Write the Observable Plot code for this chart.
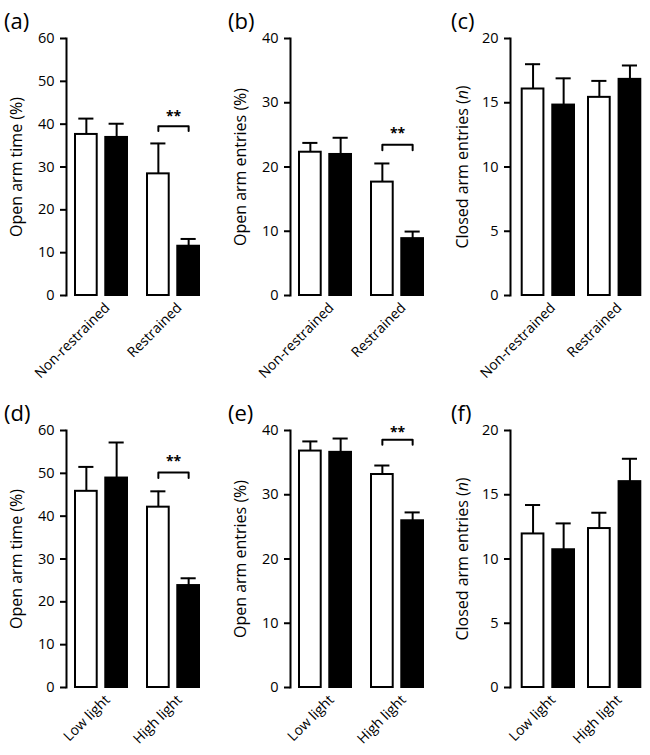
<!DOCTYPE html>
<html><head><meta charset="utf-8">
<script src="https://cdn.jsdelivr.net/npm/d3@7"></script>
<script src="https://cdn.jsdelivr.net/npm/@observablehq/plot@0.6"></script>
<style>
body{margin:0;background:#fff;}
#wrap{position:relative;width:650px;height:755px;overflow:hidden;font-family:"Open Sans",sans-serif;color:#000;}
.panel{position:absolute;}
.letter{position:absolute;font-size:22px;line-height:22px;white-space:nowrap;}
.ylab{position:absolute;width:260px;height:16px;line-height:16px;font-size:16px;text-align:center;transform:rotate(-90deg);white-space:nowrap;}
</style></head><body><div id="wrap"></div>
<script>
// ---- data ----
const conditions = ["Control", "Treated"];          // white bars, black bars
const topGroups = ["Non-restrained", "Restrained"];
const bottomGroups = ["Low light", "High light"];

// (a) open arm time (%)
const meanA = [37.6, 36.9, 28.4, 11.5];
const semA  = [3.7, 3.2, 7.1, 1.7];
// (b) open arm entries (%)
const meanB = [22.3, 21.95, 17.65, 8.85];
const semB  = [1.45, 2.6, 2.9, 1.1];
// (c) closed arm entries (n)
const meanC = [16.07, 14.82, 15.42, 16.82];
const semC  = [1.93, 2.08, 1.28, 1.08];
// (d) open arm time (%)
const meanD = [45.8, 48.9, 42.1, 23.8];
const semD  = [5.7, 8.3, 3.7, 1.7];
// (e) open arm entries (%)
const meanE = [36.8, 36.6, 33.15, 25.95];
const semE  = [1.5, 2.15, 1.4, 1.3];
// (f) closed arm entries (n)
const meanF = [11.95, 10.72, 12.37, 16.02];
const semF  = [2.25, 2.05, 1.23, 1.78];

const ticksTime = [0, 10, 20, 30, 40, 50, 60];
const ticksEntries = [0, 10, 20, 30, 40];
const ticksClosed = [0, 5, 10, 15, 20];

// significance bracket: [bracket level, leg end level, star level]
const sigA = [39.5, 38.4, 41.7];
const sigB = [23.45, 22.6, 25.15];
const sigD = [50.2, 48.9, 52.7];
const sigE = [38.55, 37.8, 39.75];

const labelTime = "Open arm time (%)";
const labelEntries = "Open arm entries (%)";
const labelClosed = "Closed arm entries (<i>n</i>)";

// ---- drawing ----
const FONT = "'Open Sans', sans-serif";
const wrap = document.getElementById("wrap");

function makePanel(cfg) {
  const rows = cfg.groups.flatMap((g, gi) => conditions.map((c, ci) => ({
    group: g, cond: c,
    mean: cfg.mean[gi * 2 + ci],
    top: cfg.mean[gi * 2 + ci] + cfg.sem[gi * 2 + ci]
  })));
  const marks = [
    Plot.barY(rows, {fx: "group", x: "cond", y: "mean", fill: "cond", stroke: "black", strokeWidth: 2}),
    Plot.ruleX(rows, {fx: "group", x: "cond", y1: "mean", y2: "top", stroke: "black", strokeWidth: 2}),
    Plot.tickY(rows, {fx: "group", x: "cond", y: "top", stroke: "black", strokeWidth: 2, insetLeft: 3.3, insetRight: 3.3})
  ];
  if (cfg.sig) {
    const g = cfg.groups[1];
    const [lvl, leg, star] = cfg.sig;
    const pts = [
      {group: g, cond: conditions[0], v: leg},
      {group: g, cond: conditions[0], v: lvl},
      {group: g, cond: conditions[1], v: lvl},
      {group: g, cond: conditions[1], v: leg}
    ];
    marks.push(Plot.line(pts, {fx: "group", x: "cond", y: "v", stroke: "black", strokeWidth: 2}));
    marks.push(Plot.text([{group: g, v: star}], {fx: "group", y: "v", text: () => "**", fontSize: 14, fontWeight: "bold", dx: cfg.starDx}));
  }
  marks.push(Plot.axisY(cfg.ticks, {tickSize: 6, tickPadding: 6, strokeWidth: 2, fontSize: 14.5, label: null}));
  marks.push(Plot.frame({anchor: "left", facetAnchor: "left", strokeWidth: 2}));
  marks.push(Plot.axisFx({anchor: "bottom", tickSize: 0, tickPadding: 10, tickRotate: -45, dx: 10, fontSize: 14, label: null}));

  const svg = Plot.plot({
    width: cfg.width, height: 375,
    marginLeft: 66, marginRight: cfg.mr, marginTop: 38, marginBottom: 80,
    style: {fontFamily: FONT, fontSize: "14px", background: "none", overflow: "visible", color: "black"},
    fx: {domain: cfg.groups, paddingInner: cfg.fxPad, paddingOuter: 0, round: false, label: null},
    x: {domain: conditions, paddingInner: cfg.xPad, paddingOuter: 0, insetLeft: cfg.inL, insetRight: 1, round: false, axis: null},
    y: {domain: [0, cfg.ticks[cfg.ticks.length - 1]], label: null},
    color: {domain: conditions, range: ["white", "black"]},
    marks
  });
  const holder = document.createElement("div");
  holder.className = "panel";
  holder.style.left = cfg.left + "px";
  holder.style.top = cfg.top + "px";
  holder.appendChild(svg);
  wrap.appendChild(holder);

  const letter = document.createElement("div");
  letter.className = "letter";
  letter.textContent = cfg.letter;
  letter.style.left = cfg.letterX + "px";
  letter.style.top = (cfg.top + 9) + "px";
  wrap.appendChild(letter);

  const yl = document.createElement("div");
  yl.className = "ylab";
  yl.innerHTML = cfg.ylabel;
  const cx = cfg.left + 66 - cfg.labOff;
  const cy = cfg.top + 38 + (375 - 38 - 80) / 2;
  yl.style.left = (cx - 130) + "px";
  yl.style.top = (cy - 8) + "px";
  wrap.appendChild(yl);
}

const wide = {fxPad: 0.139, xPad: 0.283, inL: 9};
const narrow = {fxPad: 0.0196, xPad: 0.29, inL: 11.7};

makePanel({...wide, letter: "(a)", letterX: 4, left: 0, top: 0, width: 215, mr: 15, groups: topGroups, mean: meanA, sem: semA, ticks: ticksTime, sig: sigA, starDx: 4, ylabel: labelTime, labOff: 50});
makePanel({...wide, letter: "(b)", letterX: 228, left: 224, top: 0, width: 215, mr: 15, groups: topGroups, mean: meanB, sem: semB, ticks: ticksEntries, sig: sigB, starDx: 4, ylabel: labelEntries, labOff: 50});
makePanel({...narrow, letter: "(c)", letterX: 451, left: 444, top: 0, width: 206, mr: 8.7, groups: topGroups, mean: meanC, sem: semC, ticks: ticksClosed, ylabel: labelClosed, labOff: 48});
makePanel({...wide, letter: "(d)", letterX: 4, left: 0, top: 392, width: 215, mr: 15, groups: bottomGroups, mean: meanD, sem: semD, ticks: ticksTime, sig: sigD, starDx: 4, ylabel: labelTime, labOff: 50});
makePanel({...wide, letter: "(e)", letterX: 228, left: 224, top: 392, width: 215, mr: 15, groups: bottomGroups, mean: meanE, sem: semE, ticks: ticksEntries, sig: sigE, starDx: 4, ylabel: labelEntries, labOff: 50});
makePanel({...narrow, letter: "(f)", letterX: 451, left: 444, top: 392, width: 206, mr: 8.7, groups: bottomGroups, mean: meanF, sem: semF, ticks: ticksClosed, ylabel: labelClosed, labOff: 48});
</script>
</body></html>
